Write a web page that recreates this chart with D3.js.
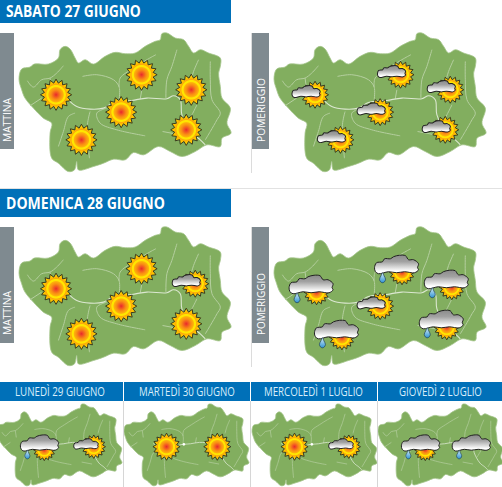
<!DOCTYPE html>
<html>
<head>
<meta charset="utf-8">
<script src="https://cdn.jsdelivr.net/npm/d3@7"></script>
<style>
html, body { margin: 0; padding: 0; background: #fff; overflow: hidden; }
svg { display: block; }
text { font-family: "Open Sans", sans-serif; }
</style>
</head>
<body>
<svg id="svg-graphic"></svg>
<script>
// map outline and rivers (3x zoom pixels)
var outline = [[57,238],[65,208],[90,202],[103,193],[145,193],[175,175],[180,150],[195,140],[210,148],[225,175],[235,190],[255,180],[280,193],[315,170],[345,158],[375,162],[405,160],[435,140],[465,125],[480,120],[485,102],[500,100],[525,115],[550,120],[565,140],[580,160],[600,150],[625,160],[660,175],[660,200],[655,220],[660,260],[665,295],[690,325],[680,370],[692,400],[665,415],[660,440],[620,435],[585,455],[545,470],[510,455],[475,440],[430,465],[400,458],[375,480],[340,478],[310,490],[280,500],[235,510],[230,485],[223,510],[205,515],[175,490],[155,475],[150,400],[155,370],[130,355],[100,325],[75,295],[65,270]];
var mainRiver = [[205,300],[230,320],[270,328],[310,325],[340,308],[395,302],[440,295],[500,297],[520,288],[540,300],[545,345],[575,400],[600,420],[615,435]];
var rivers = [
	[[82,243],[100,262],[125,240],[150,235],[170,220],[190,198]],
	[[150,235],[155,270]],
	[[90,318],[125,295]],
	[[247,230],[290,225],[340,240],[357,262],[357,300]],
	[[357,262],[360,235],[400,205],[440,180],[467,165]],
	[[420,298],[425,270]],
	[[270,335],[262,375],[268,475]],
	[[225,340],[205,350],[190,395],[175,440]],
	[[320,325],[290,340],[300,370],[350,390],[435,408]],
	[[530,150],[515,200],[500,240],[497,295]],
	[[630,185],[630,240],[635,300],[660,340],[650,360],[630,395],[615,420]],
	[[595,180],[580,215],[570,250]],
	[[487,395],[540,405]],
	[[590,315],[575,345],[560,370]]
];
var junction = [361,305];

// icon spots on the map, same coordinates
var bigStations = [[168,285],[424,225],[363,337],[244,420],[573,270],[558,390]];
var smallStations = [[273,317],[531,317]];

// forecast per panel, one entry per station
var sabatoMattina = ['sun','sun','sun','sun','sun','sun'];
var sabatoPomeriggio = ['partly','partly','partly','partly','partly','partly'];
var domenicaMattina = ['sun','sun','sun','sun','partly','sun'];
var domenicaPomeriggio = ['rain','rain','partly','rain','rain','rain'];
var lunedi = ['rain','partly'];
var martedi = ['sun','sun'];
var mercoledi = ['sun','partly'];
var giovedi = ['rain','cloudrain'];

var dayTitles = ['SABATO 27 GIUGNO','DOMENICA 28 GIUGNO'];
var smallTitles = ['LUNEDÌ 29 GIUGNO','MARTEDÌ 30 GIUGNO','MERCOLEDÌ 1 LUGLIO','GIOVEDÌ 2 LUGLIO'];
var sideLabels = ['MATTINA','POMERIGGIO'];

// cloud shape, unit is a pixel at full size
var cloudShape = [[-22,3],[-20,-2],[-14,-3],[-12,-6],[-6,-6],[-3,-8],[3,-9.5],[9,-9],[12,-5],[17,-5],[22,-1],[21,3],[22,5],[18,8],[8,7],[0,8],[-8,7],[-18,9],[-21,7]];
var dropShape = [[0,-5],[1.5,-2],[3,1.5],[2,4],[0,5],[-2,4],[-3,1.5],[-1.5,-2]];

var width = 502,
	height = 487,
	mapWidth = 212,
	smallMapWidth = 125;

var svg = d3.select('#svg-graphic')
	.attr('width', width)
	.attr('height', height);

var defs = svg.append('defs');

var sunGrad = defs.append('radialGradient').attr('id', 'sunGrad');
[[0, '#e8282a'], [0.1, '#ef4a26'], [0.3, '#f98c14'], [0.46, '#fdb20a'], [0.52, '#ffe600'], [0.6, '#ffe600'], [0.66, '#fca80c'], [0.76, '#ffc000'], [1, '#ffe000']].forEach(function(s) {
	sunGrad.append('stop').attr('offset', s[0]).attr('stop-color', s[1]);
});

var cloudGrad = defs.append('linearGradient').attr('id', 'cloudGrad')
	.attr('x1', 0).attr('y1', 0).attr('x2', 0).attr('y2', 1);
[[0, '#8b8b8b'], [0.35, '#a2a2a2'], [0.85, '#ffffff'], [1, '#ffffff']].forEach(function(s) {
	cloudGrad.append('stop').attr('offset', s[0]).attr('stop-color', s[1]);
});

var dropGrad = defs.append('linearGradient').attr('id', 'dropGrad')
	.attr('x1', 0).attr('y1', 0).attr('x2', 0).attr('y2', 1);
[[0, '#d8eef8'], [1, '#2f93d3']].forEach(function(s) {
	dropGrad.append('stop').attr('offset', s[0]).attr('stop-color', s[1]);
});

var closedShape = d3.line().curve(d3.curveCatmullRomClosed);
var riverLine = d3.line().curve(d3.curveCatmullRom);

function drawSun(g, x, y, r) {
	var pts = d3.range(32).map(function(i) {
		return [2 * Math.PI * i / 32, i % 2 === 0 ? r : r * 0.76];
	});
	g.append('path')
		.attr('transform', 'translate(' + x + ',' + y + ')')
		.attr('d', d3.lineRadial().curve(d3.curveLinearClosed)(pts))
		.attr('fill', 'url(#sunGrad)')
		.attr('stroke', '#2b2b1e')
		.attr('stroke-width', 0.9)
		.attr('stroke-linejoin', 'miter');
}

function drawCloud(g, x, y, k) {
	g.append('path')
		.attr('transform', 'translate(' + x + ',' + y + ') scale(' + k + ')')
		.attr('d', closedShape(cloudShape))
		.attr('fill', 'url(#cloudGrad)')
		.attr('stroke', '#222')
		.attr('stroke-width', 1 / k);
}

function drawDrop(g, x, y, k) {
	g.append('path')
		.attr('transform', 'translate(' + x + ',' + y + ') scale(' + k + ')')
		.attr('d', closedShape(dropShape))
		.attr('fill', 'url(#dropGrad)')
		.attr('stroke', '#1d3f55')
		.attr('stroke-width', 0.7);
}

// k scales the icon, 1 is the size on the big maps
function drawIcon(g, type, x, y, k) {
	if (type === 'sun') {
		drawSun(g, x, y, 15.6 * k);
	} else if (type === 'partly') {
		drawSun(g, x + 4 * k, y, 13.5 * k);
		drawCloud(g, x - 5 * k, y - 3 * k, 0.64 * k);
	} else if (type === 'rain') {
		drawSun(g, x + 5.5 * k, y + 3.5 * k, 12.5 * k);
		drawCloud(g, x, y - 4 * k, k);
		drawDrop(g, x - 14 * k, y + 9 * k, k);
	} else if (type === 'cloudrain') {
		drawCloud(g, x, y - 4 * k, k);
		drawDrop(g, x - 14 * k, y + 9 * k, k);
	}
}

function drawMap(left, top, w, stations, icons, iconScale) {
	var extentX = d3.extent(outline, function(d) { return d[0]; }),
		extentY = d3.extent(outline, function(d) { return d[1]; }),
		k = w / (extentX[1] - extentX[0]);
	var x = d3.scaleLinear().domain(extentX).range([left, left + w]),
		y = d3.scaleLinear().domain(extentY).range([top, top + (extentY[1] - extentY[0]) * k]);
	var project = function(d) { return [x(d[0]), y(d[1])]; };

	var g = svg.append('g');
	g.append('path')
		.attr('d', d3.line().curve(d3.curveCatmullRomClosed.alpha(0.5))(outline.map(project)))
		.attr('fill', '#82ae5f')
		.attr('stroke', '#a5c58b')
		.attr('stroke-width', 0.8);
	g.selectAll('.river')
		.data(rivers)
		.enter().append('path')
			.attr('class', 'river')
			.attr('d', function(d) { return riverLine(d.map(project)); })
			.attr('fill', 'none')
			.attr('stroke', '#b5cf9f')
			.attr('stroke-width', w > 150 ? 1 : 0.7);
	g.append('path')
		.attr('d', riverLine(mainRiver.map(project)))
		.attr('fill', 'none')
		.attr('stroke', '#dbe7d0')
		.attr('stroke-width', w > 150 ? 1.1 : 0.8);
	if (w < 150) {
		g.append('circle')
			.attr('cx', x(junction[0])).attr('cy', y(junction[1]))
			.attr('r', 1.3)
			.attr('fill', '#fff');
	}
	stations.forEach(function(s, i) {
		var p = project(s);
		drawIcon(g, icons[i], p[0], p[1], iconScale);
	});
}

// squeezes the label to the width measured on the reference
function fitText(sel, x, y, len, extra) {
	var natural = sel.node().getComputedTextLength();
	sel.attr('transform', 'translate(' + x + ',' + y + ')' + (extra || '') + ' scale(' + (len / natural) + ',1)');
}

function drawSide(x, w, top, label, textX, textBottom, textLen) {
	svg.append('rect')
		.attr('x', x).attr('y', top)
		.attr('width', w).attr('height', 116)
		.attr('fill', '#7f8a90');
	var t = svg.append('text')
		.attr('font-size', 11)
		.attr('fill', '#fff')
		.text(label);
	fitText(t, textX, textBottom, textLen, ' rotate(-90)');
}

/* --- big panels --- */

svg.append('rect').attr('x', 0).attr('y', 188).attr('width', width).attr('height', 1).attr('fill', '#e2e2e2');
svg.append('rect').attr('x', 251).attr('y', 33).attr('width', 1).attr('height', 140).attr('fill', '#dcdcdc');
svg.append('rect').attr('x', 251).attr('y', 227).attr('width', 1).attr('height', 140).attr('fill', '#dcdcdc');

[[0, 23, 16.5, 135], [189, 28, 209, 159]].forEach(function(b, i) {
	svg.append('rect')
		.attr('x', 0).attr('y', b[0])
		.attr('width', 231).attr('height', b[1])
		.attr('fill', '#0070b8');
	var t = svg.append('text')
		.attr('font-size', 15.5)
		.attr('font-weight', 700)
		.attr('fill', '#fff')
		.text(dayTitles[i]);
	fitText(t, 6, b[2], b[3]);
});

drawSide(0, 14, 33, sideLabels[0], 11, 142, 44);
drawSide(252, 17, 33, sideLabels[1], 265, 142, 64);
drawSide(0, 14, 227, sideLabels[0], 11, 335, 44);
drawSide(252, 17, 227, sideLabels[1], 265, 335, 62);

drawMap(19, 33, mapWidth, bigStations, sabatoMattina, 1);
drawMap(274, 33, mapWidth, bigStations, sabatoPomeriggio, 1);
drawMap(19, 227, mapWidth, bigStations, domenicaMattina, 1);
drawMap(274, 227, mapWidth, bigStations, domenicaPomeriggio, 1);

/* --- small panels --- */

var cells = [[0, 123, 15, 90], [124, 126, 139, 96], [251, 126, 264, 99], [378, 124, 399, 83]];
var smallIcons = [lunedi, martedi, mercoledi, giovedi];
var smallLefts = [-3, 124, 252, 378];

cells.forEach(function(c, i) {
	drawMap(smallLefts[i], 404, smallMapWidth, smallStations, smallIcons[i], 0.87);
	svg.append('rect')
		.attr('x', c[0]).attr('y', 382)
		.attr('width', c[1]).attr('height', 19)
		.attr('fill', '#0070b8');
	var t = svg.append('text')
		.attr('font-size', 12.5)
		.attr('fill', '#d8eefb')
		.text(smallTitles[i]);
	fitText(t, c[2], 396, c[3]);
	if (i > 0) {
		svg.append('rect')
			.attr('x', c[0] - 1).attr('y', 401)
			.attr('width', 1).attr('height', 86)
			.attr('fill', '#d6d6d6');
	}
});
</script>
</body>
</html>
